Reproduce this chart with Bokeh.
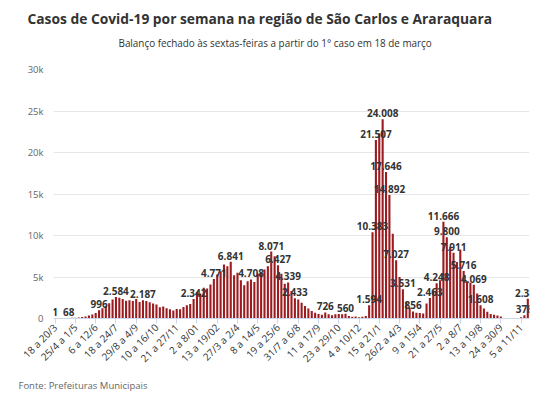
import math
from bokeh.plotting import figure
from bokeh.models import ColumnDataSource, FixedTicker, Range1d, Title
from bokeh.core.properties import value
from bokeh.embed import file_html
from bokeh.resources import INLINE

# weekly cases (one value per week, from 18 a 20/3 onwards)
cases = [
    1, 6, 15, 35, 68, 80, 100, 130, 180, 250,
    350, 480, 650, 996, 1250, 1550, 1850, 2300, 2584, 2500,
    2350, 2150, 2200, 2100, 2350, 2000, 2187, 2100, 1950, 1800,
    1700, 1350, 1450, 1250, 1100, 950, 1150, 1100, 1400, 1600,
    1750, 2342, 3200, 3000, 3700, 3600, 4100, 4771, 5300, 5700,
    6500, 6300, 6841, 5200, 5500, 4600, 4000, 4500, 4708, 4400,
    5400, 5600, 5900, 6300, 8071, 7500, 6427, 5400, 4200, 4339,
    3300, 2433, 2300, 1900, 1500, 1200, 900, 700, 550, 450,
    726, 500, 400, 500, 550, 500, 560, 300, 200, 250,
    150, 200, 300, 1594, 10383, 21507, 22300, 24008, 17646, 14892,
    10200, 7027, 5000, 3531, 2000, 1300, 856, 700, 650, 600,
    1800, 2463, 3400, 4248, 4600, 11666, 9800, 8600, 7911, 6800,
    8300, 5716, 4500, 4300, 4069, 3000, 1608, 1200, 800, 550,
    450, 350, 250, 30, 20, 10, 10, 20, 150, 378,
    2385,
]
# weeks whose value label is visible
labelled_weeks = [0, 4, 13, 18, 26, 41, 47, 52, 58, 64, 66, 69, 71, 80, 86,
                  93, 94, 95, 97, 98, 99, 101, 103, 106, 111, 113, 115, 116,
                  118, 121, 124, 126, 139, 140]
tick_step = 6
tick_labels = ["18 a 20/3", "25/4 a 1/5", "6 a 12/6", "18 a 24/7", "29/8 a 4/9",
               "10 a 16/10", "21 a 27/11", "2 a 8/01", "13 a 19/02", "27/3 a 2/4",
               "8 a 14/5", "19 a 25/6", "31/7 a 6/8", "11 a 17/9", "23 a 29/10",
               "4 a 10/12", "15 a 21/1", "26/2 a 4/3", "9 a 15/4", "21 a 27/5",
               "2 a 8/7", "13 a 19/8", "24 a 30/9", "5 a 11/11"]
y_ticks = [0, 5000, 10000, 15000, 20000, 25000, 30000]
y_tick_labels = ["0", "5k", "10k", "15k", "20k", "25k", "30k"]

title = "Casos de Covid-19 por semana na região de São Carlos e Araraquara"
subtitle = "Balanço fechado às sextas-feiras a partir do 1° caso em 18 de março"
source_text = "Fonte: Prefeituras Municipais"

weeks = list(range(len(cases)))
fmt = lambda v: f"{v:,}".replace(",", ".")

src = ColumnDataSource(dict(week=weeks, cases=cases))
lsrc = ColumnDataSource(dict(
    week=[weeks[i] for i in labelled_weeks],
    cases=[cases[i] for i in labelled_weeks],
    label=[fmt(cases[i]) for i in labelled_weeks],
))

p = figure(width=559, height=394, output_backend="svg", toolbar_location=None,
           title=None,
           x_range=Range1d(-0.5, len(cases) - 0.5), y_range=Range1d(0, 30000),
           min_border_left=53, min_border_right=30, min_border_top=67,
           min_border_bottom=76)
p.outline_line_color = None
p.background_fill_color = "white"
p.border_fill_color = "white"

p.vbar(x="week", top="cases", width=0.62, source=src,
       fill_color="#9b1b1f", line_color=None)

p.text(x="week", y="cases", text="label", source=lsrc, text_align="center",
       text_baseline="bottom", y_offset=-2, text_font=value("Open Sans"),
       text_font_style="bold", text_font_size="10px", text_color="#333333")

# x axis
tick_pos = [i * tick_step for i in range(len(tick_labels))]
p.xaxis.ticker = FixedTicker(ticks=tick_pos)
p.xaxis.major_label_overrides = {t: l for t, l in zip(tick_pos, tick_labels)}
p.xaxis.major_label_orientation = math.pi / 4
p.xaxis.major_tick_out = 5
p.xaxis.major_tick_in = 0
p.xaxis.minor_tick_line_color = None
p.xaxis.major_tick_line_color = "#ccd6eb"
p.xaxis.axis_line_color = "#ccd6eb"
p.xaxis.major_label_text_font = "Open Sans"
p.xaxis.major_label_text_font_size = "10px"
p.xaxis.major_label_text_color = "#333333"
p.xaxis.major_label_standoff = 2

# y axis
p.yaxis.ticker = FixedTicker(ticks=y_ticks)
p.yaxis.major_label_overrides = {t: l for t, l in zip(y_ticks, y_tick_labels)}
p.yaxis.axis_line_color = None
p.yaxis.major_tick_line_color = None
p.yaxis.minor_tick_line_color = None
p.yaxis.major_tick_out = 0
p.yaxis.major_label_standoff = 10
p.yaxis.major_label_text_font = "Open Sans"
p.yaxis.major_label_text_font_size = "9.5px"
p.yaxis.major_label_text_color = "#666666"

p.xgrid.visible = False
p.ygrid.grid_line_color = "#e6e6e6"

# titles (first added sits closest to the plot)
p.add_layout(Title(text=" ", text_font_size="1px", standoff=17), "above")
p.add_layout(Title(text=subtitle, align="left", offset=65,
                   text_font="Open Sans", text_font_style="normal",
                   text_font_size="9.9px", text_color="#333333",
                   standoff=0), "above")
p.add_layout(Title(text=title, align="left", offset=-26,
                   text_font="Open Sans", text_font_style="bold",
                   text_font_size="13.8px", text_color="#333333",
                   standoff=12), "above")
p.add_layout(Title(text=" ", text_font_size="1px", standoff=3), "below")
p.add_layout(Title(text=source_text, align="left", offset=-35,
                   vertical_align="top",
                   text_font="Open Sans", text_font_style="normal",
                   text_font_size="9.5px", text_color="#666666",
                   standoff=0), "below")

open("out.html", "w").write(file_html(p, INLINE))
